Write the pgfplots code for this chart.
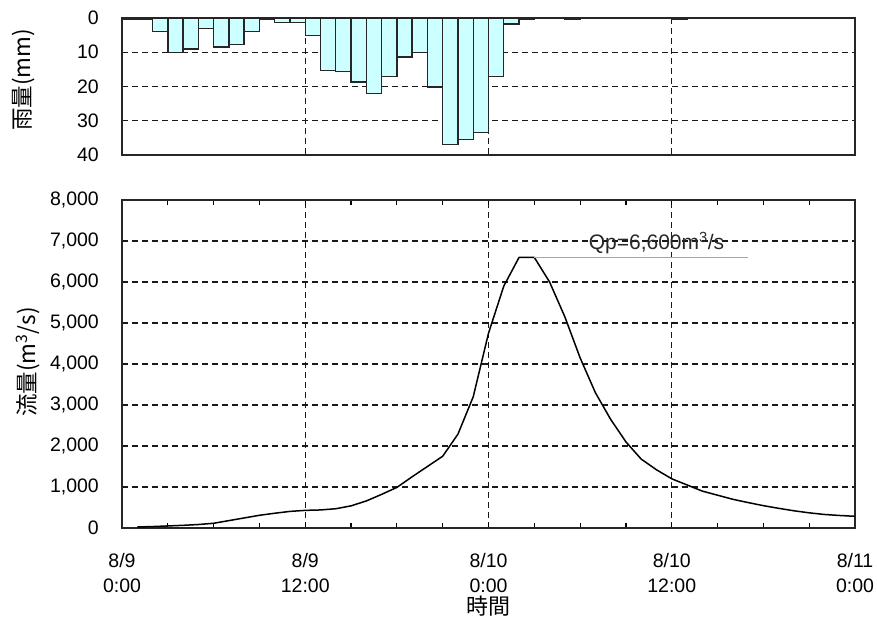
\documentclass[border=0pt]{standalone}
\usepackage{pgfplots}
\pgfplotsset{compat=1.18}
\usepackage{fontspec}
\setmainfont{Liberation Sans}
\newfontfamily\jp{Noto Sans CJK JP}
\definecolor{barcyan}{RGB}{204,255,255}
\definecolor{gridc}{RGB}{25,25,25}
\pgfplotsset{
  base/.style={
    scale only axis, width=733pt, anchor=south west,
    xmin=0, xmax=48,
    axis line style={line width=1.5pt, black!85},
    grid=major,
    major grid style={line width=1.35pt, gridc, dash pattern=on 6pt off 4pt},
    tick label style={font=\fontsize{19.5}{25}\selectfont},
    /pgf/number format/assume math mode=true,
    /pgf/number format/1000 sep={,},
    scaled y ticks=false,
    yticklabel style={inner sep=0pt, xshift=-23pt},
    ytick style={draw=none},
  }
}
\begin{document}
\begin{tikzpicture}
\useasboundingbox (0pt,0pt) rectangle (877pt,617pt);
% rainfall
\begin{axis}[base, at={(122pt,462pt)}, height=137pt,
  ymin=0, ymax=40, y dir=reverse, ytick={0,10,20,30,40},
  xtick={12,24,36}, xticklabels={}, xtick style={draw=none},
  ylabel={\jp 雨量(mm)},
  ylabel style={at={(axis description cs:-0.134,0.547)}, anchor=center, font=\fontsize{22.5}{22.5}\selectfont}]
\addplot[ybar, bar width=1, bar shift=0, fill=barcyan, draw=black!85, line width=1.4pt]
 coordinates {(0.5,0.3) (1.5,0.3) (2.5,4) (3.5,10) (4.5,9) (5.5,3) (6.5,8.5) (7.5,7.8)
 (8.5,4) (9.5,0.3) (10.5,1.3) (11.5,1.3) (12.5,5.2) (13.5,15.3) (14.5,15.6) (15.5,18.7)
 (16.5,22) (17.5,17) (18.5,11.4) (19.5,10) (20.5,20.2) (21.5,36.9) (22.5,35.4) (23.5,33.4)
 (24.5,17) (25.5,1.7) (26.5,0.3) (29.5,0.3) (36.5,0.3)};
\end{axis}
% discharge
\begin{axis}[base, at={(122pt,89pt)}, height=328pt,
  ymin=0, ymax=8000, ytick={0,1000,...,8000},
  xtick={0,12,24,36,48}, minor xtick={3,6,...,45},
  xtick align=inside, major tick length=5pt, minor tick length=5pt,
  xtick style={line width=1.2pt, black},
  xticklabels={{8/9\\0:00},{8/9\\12:00},{8/10\\0:00},{8/10\\12:00},{8/11\\0:00}},
  xticklabel style={align=center, inner sep=0pt, yshift=-25pt},
  xlabel={\jp 時間},
  xlabel style={at={(axis description cs:0.5,0)}, anchor=center, yshift=-78pt, font=\fontsize{22}{22}\selectfont},
  ylabel={\jp 流量(m\textsuperscript{3}/s)},
  ylabel style={at={(axis description cs:-0.128,0.506)}, anchor=center, font=\fontsize{22.5}{22.5}\selectfont}]
\addplot[black, line width=1.5pt, line join=round] coordinates {
 (1,25) (2,35) (3,50) (4,65) (5,85) (6,115) (7,180) (8,245) (9,310) (10,360) (11,405) (12,430)
 (13,440) (14,470) (15,540) (16,660) (17,820) (18,990) (19,1250) (20,1500) (21,1750) (22,2290)
 (23,3200) (24,4750) (25,5900) (26,6600) (27,6600) (28,6000) (29,5150) (30,4150) (31,3300)
 (32,2650) (33,2100) (34,1680) (35,1420) (36,1200) (37,1050) (38,900) (39,800) (40,700)
 (41,620) (42,545) (43,480) (44,420) (45,370) (46,330) (47,305) (48,285)};
\addplot[gray!70, line width=1.3pt] coordinates {(27,6600) (41,6600)};
\node[font=\fontsize{21}{21}\selectfont, anchor=base, text=black!85] at (axis cs:35,6790) {Qp=6,600m\textsuperscript{3}/s};
\end{axis}
\end{tikzpicture}
\end{document}
